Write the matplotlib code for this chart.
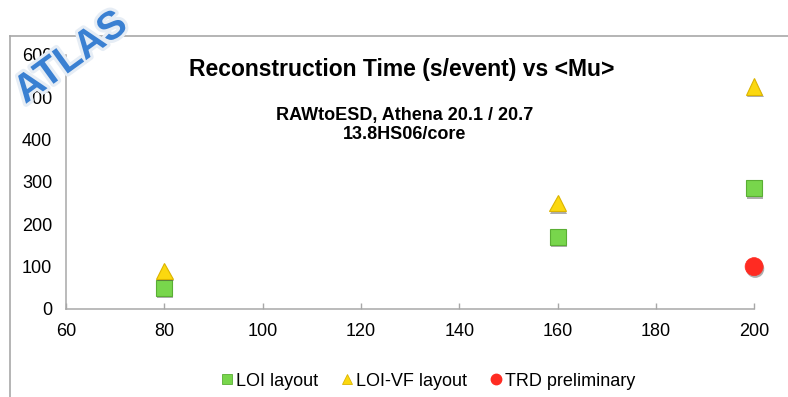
import matplotlib
matplotlib.use("Agg")
import matplotlib.pyplot as plt
import matplotlib.patheffects as pe
from matplotlib.lines import Line2D

plt.rcParams["font.family"] = ["Liberation Sans", "DejaVu Sans"]

# ---------------------------
# DATA
# ---------------------------
mu_loi = [80, 160, 200]
time_loi = [50, 170, 285]

mu_loivf = [80, 160, 200]
time_loivf = [90, 250, 525]

mu_trd = [200]
time_trd = [100]

x_ticks = [60, 80, 100, 120, 140, 160, 180, 200]
y_ticks = [0, 100, 200, 300, 400, 500, 600]

# ---------------------------
# PLOT
# ---------------------------
fig = plt.figure(figsize=(7.88, 3.97), dpi=100)
ax = fig.add_axes([0.0838, 0.2217, 0.8732, 0.6398])

shadow = [pe.SimplePatchShadow(offset=(0.8, -1.6), shadow_rgbFace="0.3", alpha=0.45),
          pe.Normal()]

ax.plot(mu_loi, time_loi, ls="none", marker="s", markersize=11.5,
        markerfacecolor="#78d64c", markeredgecolor="#5aae34", markeredgewidth=0.8,
        clip_on=False, path_effects=shadow, zorder=3)
ax.plot(mu_loivf, time_loivf, ls="none", marker="^", markersize=12,
        markerfacecolor="#fbd80f", markeredgecolor="#dcb400", markeredgewidth=0.8,
        clip_on=False, path_effects=shadow, zorder=3)
ax.plot(mu_trd, time_trd, ls="none", marker="o", markersize=13,
        markerfacecolor="#ff2b22", markeredgecolor="#ff2b22", markeredgewidth=0.5,
        clip_on=False, path_effects=shadow, zorder=3)

ax.set_xlim(60, 200)
ax.set_ylim(0, 600)
ax.set_xticks(x_ticks)
ax.set_yticks(y_ticks)

for side in ["top", "right"]:
    ax.spines[side].set_visible(False)
for side in ["left", "bottom"]:
    ax.spines[side].set_color("#a8a8a8")
    ax.spines[side].set_linewidth(1.1)

ax.tick_params(axis="x", direction="in", length=4, width=1, color="#a8a8a8",
               labelsize=13, pad=10)
ax.tick_params(axis="y", length=0, labelsize=13, pad=10)

# titles
fig.text(0.51, 0.826, "Reconstruction Time (s/event) vs <Mu>",
         ha="center", va="center", fontsize=16.5, fontweight="bold")
fig.text(0.513, 0.71, "RAWtoESD, Athena 20.1 / 20.7",
         ha="center", va="center", fontsize=13, fontweight="bold")
fig.text(0.513, 0.661, "13.8HS06/core",
         ha="center", va="center", fontsize=13, fontweight="bold")

# outer frame
frame_kw = dict(color="#a8a8a8", linewidth=1.2, transform=fig.transFigure)
fig.add_artist(Line2D([0.0127, 1.0], [0.9093, 0.9093], **frame_kw))
fig.add_artist(Line2D([0.0127, 0.0127], [0.0, 0.9093], **frame_kw))

# legend
handles = [
    Line2D([], [], ls="none", marker="s", markersize=7,
           markerfacecolor="#78d64c", markeredgecolor="#5aae34", markeredgewidth=0.6),
    Line2D([], [], ls="none", marker="^", markersize=7.5,
           markerfacecolor="#fbd80f", markeredgecolor="#dcb400", markeredgewidth=0.6),
    Line2D([], [], ls="none", marker="o", markersize=7.5,
           markerfacecolor="#ff2b22", markeredgecolor="#ff2b22"),
]
fig.legend(handles, ["LOI layout", "LOI-VF layout", "TRD preliminary"],
           loc="center", bbox_to_anchor=(0.543, 0.04), ncol=3, frameon=False,
           fontsize=13, handlelength=0.7, handletextpad=0.15, columnspacing=1.25,
           borderaxespad=0)

# ATLAS logo
fig.text(0.09, 0.855, "ATLAS", ha="center", va="center", rotation=36,
         fontsize=28.5, fontweight="bold", color="#3a80d2",
         path_effects=[pe.withStroke(linewidth=4.5, foreground="#e6edf5")],
         zorder=10)

fig.savefig("out.png", dpi=100)
plt.close(fig)
